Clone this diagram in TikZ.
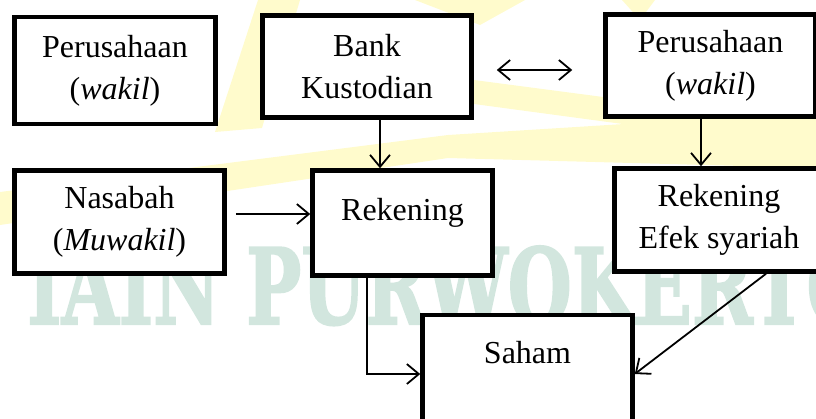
\documentclass[tikz,border=0pt]{standalone}
\usepackage{fontspec}
\setmainfont{Liberation Serif}
\newfontfamily\markfont[FakeBold=2]{DejaVu Serif}
\usetikzlibrary{arrows.meta}
\definecolor{markteal}{RGB}{210,230,222}
\definecolor{markyellow}{RGB}{255,251,204}

\begin{document}
\begin{tikzpicture}[x=1pt,y=-1pt,
	box_node/.style={rectangle,draw,line width=4.5pt,fill=white,align=center,inner sep=0pt,font=\fontsize{32}{42}\selectfont},
	arr/.style={-{Straight Barb[length=12pt,width=20pt]},line width=1.8pt},
	arr2/.style={{Straight Barb[length=12pt,width=20pt]}-{Straight Barb[length=12pt,width=20pt]},line width=1.8pt}]
				\useasboundingbox (0,0) rectangle (816,418);
				\clip (0,0) rectangle (816,418);

				% watermark behind the boxes
				\fill[markyellow] (0,192) -- (448,135) -- (816,112) -- (816,168) -- (448,158) -- (0,225) -- cycle;
				\fill[markyellow] (215,132) -- (258,0) -- (300,0) -- (262,128) -- cycle;
				\fill[markyellow] (474,80) -- (816,125) -- (816,150) -- (474,104) -- cycle;
				\fill[markyellow] (415,0) -- (525,0) -- (480,25) -- cycle;
				\fill[markyellow] (622,0) -- (655,0) -- (640,20) -- cycle;
				\node[anchor=base west,inner sep=0pt,text=markteal] (mark) at (27,324) {\resizebox{843pt}{78pt}{\markfont\bfseries IAIN PURWOKERTO}};

				\node[box_node,minimum width=201pt,minimum height=107pt] (wakilA) at (115,70.4) {Perusahaan\\(\textit{wakil})};
				\node[box_node,minimum width=209pt,minimum height=102pt] (bank) at (367,66.5) {Bank\\Kustodian};
				\node[box_node,minimum width=210pt,minimum height=102pt] (wakilB) at (710.5,65.5) {Perusahaan\\(\textit{wakil})};
				\node[box_node,minimum width=210pt,minimum height=103pt] (nasabah) at (119.5,222) {Nasabah\\(\textit{Muwakil})};
				\node[box_node,minimum width=180pt,minimum height=105pt,text depth=28pt] (rekening) at (402.5,223) {Rekening};
				\node[box_node,minimum width=209pt,minimum height=103pt] (efek) at (719,220) {Rekening\\Efek syariah};
				\node[box_node,minimum width=210pt,minimum height=118pt,text depth=44pt] (saham) at (527.5,374) {Saham};

				\draw[arr2,shorten <=23pt,shorten >=31pt] ([yshift=-3.5pt]bank.east) -- ([yshift=-3.5pt]bank.east -| wakilB.west);
				\draw[arr] ([xshift=13pt]bank.south) -- ([xshift=13pt]bank.south |- rekening.north);
				\draw[arr] ([xshift=-9.5pt]wakilB.south) -- ([xshift=-9.5pt]wakilB.south |- efek.north);
				\draw[arr,shorten <=9pt] ([yshift=8pt]nasabah.east) -- ([yshift=8pt]nasabah.east -| rekening.west);
				\draw[arr] ([xshift=-35.5pt]rekening.south) |- (saham.west);
				\draw[arr] ([xshift=47pt]efek.south) -- (saham.east);
				\end{tikzpicture}
\end{document}
